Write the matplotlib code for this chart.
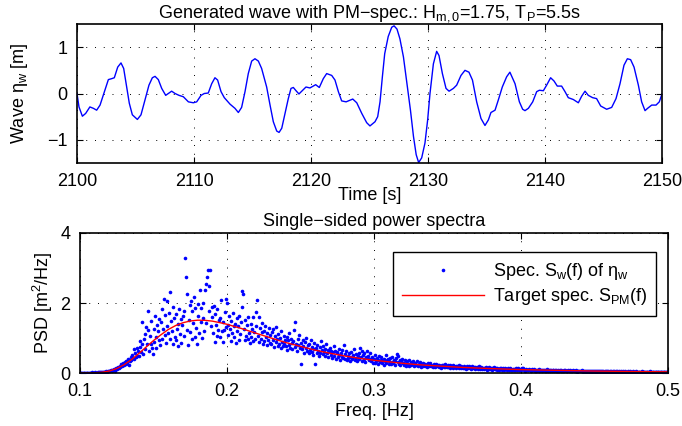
import numpy as np
import matplotlib
matplotlib.use('Agg')
import matplotlib.pyplot as plt

plt.rcParams['font.family'] = ['Liberation Sans', 'DejaVu Sans']
plt.rcParams['mathtext.fontset'] = 'custom'
plt.rcParams['mathtext.rm'] = 'Liberation Sans'
plt.rcParams['mathtext.it'] = 'Liberation Sans'
plt.rcParams['mathtext.bf'] = 'Liberation Sans:bold'
plt.rcParams['font.size'] = 13

# ola generada
t_ola = [2100.0, 2100.17, 2100.46, 2100.74, 2101.1, 2101.4, 2101.68, 2101.97, 2102.34, 2102.68,
         2102.96, 2103.19, 2103.48, 2103.76, 2103.99, 2104.25, 2104.47, 2104.73, 2105.16, 2105.47,
         2105.81, 2106.15, 2106.44, 2106.67, 2106.95, 2107.24, 2107.58, 2107.86, 2108.09, 2108.38,
         2108.72, 2109.09, 2109.52, 2109.94, 2110.23, 2110.6, 2110.88, 2111.22, 2111.51, 2111.79,
         2112.02, 2112.31, 2112.59, 2112.8, 2113.08, 2113.5, 2113.79, 2114.07, 2114.36, 2114.64,
         2114.93, 2115.21, 2115.5, 2115.78, 2116.21, 2116.5, 2116.78, 2117.07, 2117.27, 2117.5,
         2117.78, 2118.06, 2118.29, 2118.49, 2118.72, 2118.97, 2119.29, 2119.57, 2119.91, 2120.4,
         2120.71, 2121.05, 2121.34, 2121.77, 2122.05, 2122.34, 2122.62, 2123.0, 2123.57, 2123.91,
         2124.34, 2124.76, 2125.04, 2125.47, 2125.7, 2125.9, 2126.1, 2126.3, 2126.6, 2126.9,
         2127.1, 2127.35, 2127.6, 2127.9, 2128.2, 2128.5, 2128.76, 2128.99, 2129.2, 2129.46,
         2129.74, 2129.97, 2130.17, 2130.46, 2130.74, 2130.94, 2131.23, 2131.54, 2131.8, 2132.17,
         2132.45, 2132.82, 2133.16, 2133.5, 2133.8, 2134.16, 2134.53, 2134.87, 2135.16, 2135.38,
         2135.73, 2136.01, 2136.35, 2136.72, 2137.0, 2137.44, 2137.81, 2138.09, 2138.29, 2138.58,
         2138.95, 2139.29, 2139.52, 2139.86, 2140.14, 2140.48, 2140.77, 2141.05, 2141.42, 2141.71,
         2141.99, 2142.42, 2142.85, 2143.13, 2143.42, 2143.7, 2144.07, 2144.41, 2144.76, 2145.27,
         2145.7, 2146.07, 2146.41, 2146.75, 2147.04, 2147.32, 2147.61, 2147.98, 2148.26, 2148.55,
         2148.77, 2149.12, 2149.49, 2149.77, 2150.0]
eta_ola = [0.0, -0.29, -0.49, -0.43, -0.29, -0.32, -0.36, -0.25, 0.04, 0.30,
           0.32, 0.34, 0.57, 0.66, 0.54, 0.14, -0.21, -0.46, -0.56, -0.46,
           -0.14, 0.18, 0.34, 0.37, 0.30, 0.11, -0.04, 0.01, 0.05, 0.0,
           -0.04, -0.07, -0.18, -0.20, -0.18, -0.04, 0.0, 0.01, 0.21, 0.34,
           0.29, 0.04, -0.09, -0.15, -0.23, -0.32, -0.41, -0.30, 0.04, 0.43,
           0.70, 0.75, 0.70, 0.54, 0.14, -0.25, -0.61, -0.81, -0.84, -0.75,
           -0.43, -0.11, 0.11, 0.13, 0.06, -0.01, 0.07, 0.14, 0.12, 0.19,
           0.13, 0.32, 0.43, 0.39, 0.29, 0.04, -0.16, -0.18, -0.12, -0.20,
           -0.43, -0.63, -0.70, -0.61, -0.50, -0.18, 0.36, 0.86, 1.23, 1.43,
           1.46, 1.39, 1.18, 0.79, 0.21, -0.36, -0.93, -1.32, -1.49, -1.39,
           -1.07, -0.57, 0.0, 0.64, 0.91, 0.82, 0.43, 0.11, 0.05, 0.11,
           0.18, 0.39, 0.50, 0.46, 0.29, -0.18, -0.54, -0.69, -0.57, -0.41,
           -0.36, -0.14, 0.14, 0.36, 0.46, 0.21, -0.18, -0.34, -0.37, -0.32,
           -0.18, 0.04, 0.07, 0.06, 0.18, 0.34, 0.27, 0.16, 0.16, 0.04,
           -0.09, -0.13, -0.20, -0.06, 0.05, -0.04, -0.09, -0.11, -0.27, -0.34,
           -0.30, -0.11, 0.21, 0.61, 0.75, 0.73, 0.57, 0.18, -0.18, -0.37,
           -0.32, -0.25, -0.25, -0.18, -0.01]

# espectro medido, pasos de 0.0005 Hz desde 0.1 Hz
df_esp = 0.0005
f_ini = 0.1
psd_01 = [0.00, 0.00, 0.01, 0.00, 0.00, 0.01, 0.00, 0.00, 0.01, 0.00,
          0.00, 0.01, 0.00, 0.01, 0.01, 0.00, 0.01, 0.02, 0.01, 0.00,
          0.01, 0.02, 0.01, 0.00, 0.02, 0.01, 0.03, 0.02, 0.01, 0.02,
          0.03, 0.02, 0.04, 0.03, 0.02, 0.05, 0.04, 0.03, 0.06, 0.05,
          0.07, 0.05, 0.09, 0.06, 0.10, 0.08, 0.12, 0.07, 0.11, 0.13,
          0.15, 0.11, 0.18, 0.14, 0.21, 0.16, 0.25, 0.19, 0.23, 0.28,
          0.22, 0.31, 0.26, 0.35, 0.29, 0.41, 0.24, 0.38, 0.33, 0.45,
          0.36, 0.52, 0.44, 0.68, 0.39, 0.58, 0.47, 0.71, 0.50, 0.62,
          0.49, 0.74, 0.92, 0.61, 1.46, 0.83, 0.55, 0.98, 0.70, 1.12,
          1.31, 0.82, 1.76, 1.22, 0.64, 1.05, 0.84, 1.48, 0.72, 0.55,
          1.26, 0.88, 1.62, 1.04, 0.71, 1.38, 1.19, 0.95, 1.53, 0.80,
          1.45, 1.84, 0.98, 1.27, 2.12, 1.09, 1.66, 0.86, 2.06, 1.35,
          1.14, 1.72, 0.96, 2.31, 1.48, 1.21, 1.89, 0.83, 1.57, 1.02,
          0.93, 1.68, 1.25, 1.41, 0.78, 1.83, 1.12, 1.54, 0.85, 1.37,
          1.62, 1.06, 1.78, 3.30, 2.74, 1.24, 2.27, 0.80, 1.51, 1.93,
          1.17, 2.05, 0.96, 1.77, 1.42, 2.18, 1.03, 1.86, 1.29, 0.82,
          1.64, 1.96, 1.13, 2.36, 1.47, 1.85, 0.99, 2.01, 1.56, 1.21,
          2.36, 2.55, 1.42, 2.74, 2.93, 2.48, 1.77, 2.95, 1.34, 1.88,
          1.61, 1.15, 1.92, 0.88, 1.70, 1.36, 1.07, 1.83, 1.24, 1.52,
          1.02, 1.58, 2.08, 1.19, 0.89, 1.45, 1.22, 1.75, 1.31, 2.12]
psd_02 = [2.00, 1.37, 1.08, 1.64, 1.26, 0.91, 1.49, 1.15, 1.72, 1.33,
          1.02, 1.41, 0.87, 1.56, 1.19, 1.34, 0.95, 1.63, 1.11, 1.47,
          1.88, 2.33, 2.27, 1.25, 0.94, 1.52, 1.07, 1.36, 0.98, 1.61,
          1.13, 0.86, 1.40, 1.02, 1.27, 0.91, 1.59, 1.18, 0.97, 1.33,
          1.74, 2.10, 1.05, 1.60, 0.88, 1.29, 0.97, 1.16, 1.42, 0.83,
          1.21, 0.92, 1.35, 1.04, 0.79, 1.13, 0.95, 1.28, 0.86, 1.09,
          0.82, 1.17, 0.93, 1.26, 0.74, 1.05, 0.88, 1.31, 0.97, 0.78,
          1.12, 0.84, 0.99, 0.71, 1.19, 0.90, 0.76, 1.06, 0.83, 0.95,
          0.78, 1.02, 0.66, 0.93, 1.14, 0.81, 0.72, 0.98, 0.85, 0.69,
          0.91, 1.22, 0.74, 1.46, 0.83, 0.62, 0.96, 0.79, 1.08, 0.71,
          0.27, 0.85, 0.69, 0.93, 0.76, 0.58, 0.88, 0.72, 1.01, 0.64,
          0.79, 0.57, 0.84, 0.66, 0.95, 0.61, 0.73, 0.52, 0.86, 0.68,
          0.25, 0.71, 0.56, 0.80, 0.63, 0.49, 0.74, 0.58, 0.92, 0.66,
          0.53, 0.78, 0.61, 0.48, 0.70, 0.84, 0.56, 0.67, 0.45, 0.63,
          0.72, 0.51, 0.64, 0.43, 0.59, 0.76, 0.49, 0.62, 0.40, 0.56,
          0.61, 0.45, 0.70, 0.52, 0.38, 0.58, 0.47, 0.66, 0.42, 0.79,
          0.55, 0.41, 0.63, 0.36, 0.50, 0.44, 0.58, 0.34, 0.47, 0.60,
          0.39, 0.52, 0.46, 0.68, 0.37, 0.43, 0.55, 0.33, 0.49, 0.41,
          0.58, 0.72, 0.47, 0.64, 0.35, 0.51, 0.40, 0.56, 0.31, 0.45,
          0.62, 0.43, 0.50, 0.36, 0.57, 0.41, 0.34, 0.46, 0.29, 0.40]
psd_03 = [0.41, 0.29, 0.52, 0.35, 0.44, 0.27, 0.38, 0.48, 0.31, 0.36,
          0.45, 0.30, 0.37, 0.24, 0.41, 0.33, 0.51, 0.28, 0.36, 0.39,
          0.27, 0.35, 0.43, 0.26, 0.31, 0.47, 0.29, 0.38, 0.23, 0.34,
          0.42, 0.55, 0.50, 0.31, 0.26, 0.36, 0.22, 0.33, 0.40, 0.28,
          0.30, 0.24, 0.36, 0.21, 0.29, 0.33, 0.25, 0.38, 0.20, 0.27,
          0.31, 0.22, 0.28, 0.34, 0.19, 0.26, 0.30, 0.23, 0.35, 0.24,
          0.20, 0.27, 0.23, 0.31, 0.18, 0.25, 0.21, 0.29, 0.24, 0.19,
          0.26, 0.22, 0.17, 0.28, 0.23, 0.20, 0.30, 0.19, 0.24, 0.21,
          0.18, 0.25, 0.21, 0.16, 0.27, 0.22, 0.19, 0.24, 0.17, 0.23,
          0.20, 0.15, 0.24, 0.19, 0.22, 0.16, 0.26, 0.18, 0.21, 0.17,
          0.22, 0.16, 0.19, 0.24, 0.15, 0.20, 0.17, 0.23, 0.14, 0.19,
          0.17, 0.21, 0.14, 0.19, 0.16, 0.22, 0.13, 0.18, 0.20, 0.15,
          0.18, 0.13, 0.20, 0.15, 0.17, 0.12, 0.19, 0.16, 0.14, 0.21,
          0.14, 0.17, 0.12, 0.19, 0.15, 0.13, 0.18, 0.11, 0.16, 0.14,
          0.16, 0.12, 0.15, 0.19, 0.11, 0.14, 0.17, 0.12, 0.15, 0.13,
          0.11, 0.15, 0.13, 0.17, 0.10, 0.14, 0.12, 0.16, 0.11, 0.13,
          0.14, 0.10, 0.13, 0.16, 0.11, 0.12, 0.15, 0.09, 0.13, 0.12,
          0.10, 0.14, 0.11, 0.13, 0.09, 0.15, 0.12, 0.10, 0.13, 0.11,
          0.12, 0.09, 0.14, 0.11, 0.10, 0.13, 0.08, 0.12, 0.10, 0.11,
          0.09, 0.12, 0.10, 0.13, 0.08, 0.11, 0.14, 0.09, 0.10, 0.12]
psd_04 = [0.08, 0.11, 0.15, 0.13, 0.09, 0.10, 0.07, 0.12, 0.09, 0.10,
          0.08, 0.11, 0.09, 0.07, 0.10, 0.12, 0.08, 0.09, 0.11, 0.07,
          0.09, 0.07, 0.10, 0.08, 0.11, 0.06, 0.09, 0.08, 0.10, 0.07,
          0.08, 0.10, 0.06, 0.09, 0.07, 0.11, 0.08, 0.06, 0.09, 0.08,
          0.07, 0.09, 0.06, 0.10, 0.08, 0.07, 0.09, 0.05, 0.08, 0.07,
          0.06, 0.08, 0.07, 0.09, 0.05, 0.08, 0.07, 0.06, 0.09, 0.07,
          0.08, 0.06, 0.07, 0.05, 0.09, 0.06, 0.08, 0.07, 0.05, 0.07,
          0.06, 0.08, 0.05, 0.07, 0.06, 0.08, 0.04, 0.07, 0.06, 0.05,
          0.07, 0.05, 0.06, 0.08, 0.04, 0.06, 0.07, 0.05, 0.06, 0.04,
          0.05, 0.07, 0.04, 0.06, 0.05, 0.07, 0.04, 0.06, 0.05, 0.06,
          0.04, 0.06, 0.05, 0.07, 0.04, 0.05, 0.06, 0.03, 0.05, 0.06,
          0.05, 0.04, 0.06, 0.03, 0.05, 0.06, 0.04, 0.05, 0.03, 0.05,
          0.04, 0.06, 0.03, 0.05, 0.04, 0.05, 0.03, 0.06, 0.04, 0.05,
          0.03, 0.05, 0.04, 0.06, 0.03, 0.04, 0.05, 0.03, 0.04, 0.05,
          0.04, 0.03, 0.05, 0.04, 0.02, 0.05, 0.04, 0.03, 0.05, 0.04,
          0.03, 0.04, 0.05, 0.03, 0.04, 0.02, 0.05, 0.04, 0.03, 0.04,
          0.04, 0.03, 0.02, 0.04, 0.05, 0.03, 0.04, 0.02, 0.04, 0.03,
          0.03, 0.04, 0.03, 0.02, 0.04, 0.03, 0.05, 0.03, 0.02, 0.04,
          0.03, 0.02, 0.04, 0.03, 0.04, 0.02, 0.03, 0.04, 0.03, 0.02,
          0.04, 0.03, 0.02, 0.03, 0.04, 0.02, 0.03, 0.03, 0.04, 0.02,
          0.03]

f_pm = [0.100, 0.105, 0.110, 0.115, 0.120, 0.125, 0.130, 0.135, 0.140, 0.145,
        0.150, 0.155, 0.160, 0.165, 0.170, 0.175, 0.180, 0.185, 0.190, 0.195,
        0.200, 0.205, 0.210, 0.215, 0.220, 0.230, 0.240, 0.250, 0.260, 0.270,
        0.280, 0.290, 0.300, 0.310, 0.320, 0.330, 0.340, 0.350, 0.360, 0.380,
        0.400, 0.420, 0.450, 0.475, 0.500]
s_pm = [0.000, 0.001, 0.006, 0.021, 0.058, 0.128, 0.237, 0.382, 0.556, 0.743,
        0.927, 1.090, 1.241, 1.355, 1.436, 1.486, 1.509, 1.505, 1.482, 1.440,
        1.392, 1.330, 1.269, 1.200, 1.133, 1.000, 0.870, 0.760, 0.653, 0.565,
        0.487, 0.420, 0.364, 0.320, 0.275, 0.238, 0.210, 0.185, 0.160, 0.125,
        0.097, 0.080, 0.055, 0.043, 0.033]


def estilo_matlab(ax, xticks, yticks):
    ax.set_xticks(xticks)
    ax.set_yticks(yticks)
    ax.tick_params(direction='in', top=True, right=True, length=4, width=0.8, pad=7)
    ax.grid(True, color='k', linestyle=(0, (1, 8)), linewidth=0.7)
    for s in ax.spines.values():
        s.set_linewidth(1.2)


psd = np.array(psd_01 + psd_02 + psd_03 + psd_04)
f_esp = f_ini + df_esp * np.arange(len(psd))

fig = plt.figure(figsize=(6.82, 4.26), dpi=100)
ax1 = fig.add_axes([77/682, 1-163/426, 585/682, 139/426])
ax2 = fig.add_axes([80/682, 1-373/426, 588/682, 140/426])

ax1.plot(t_ola, eta_ola, color=(0, 0, 1), linewidth=1.0, solid_joinstyle='round')
ax1.set_xlim(2100, 2150)
ax1.set_ylim(-1.5, 1.5)
estilo_matlab(ax1, [2100, 2110, 2120, 2130, 2140, 2150], [-1, 0, 1])
ax1.set_title(r'Generated wave with PM$-$spec.: H$_{\mathrm{m,0}}$=1.75, T$_{\mathrm{P}}$=5.5s',
              fontsize=13, pad=5)
ax1.set_ylabel('Wave η$_\\mathrm{w}$ [m]', labelpad=12)
ax1.set_xlabel('Time [s]')
ax1.xaxis.set_label_coords(0.5, -0.17)

ax2.plot(f_esp, psd, linestyle='none', marker='o', markersize=2.6, color=(0, 0, 1),
         markeredgewidth=0, label='Spec. S$_\\mathrm{w}$(f) of η$_\\mathrm{w}$')
ax2.plot(f_pm, s_pm, color=(1, 0, 0), linewidth=1.0, label='Target spec. S$_{\\mathrm{PM}}$(f)')
ax2.set_xlim(0.1, 0.5)
ax2.set_ylim(0, 4)
estilo_matlab(ax2, [0.1, 0.2, 0.3, 0.4, 0.5], [0, 2, 4])
ax2.set_title('Single−sided power spectra', fontsize=13, pad=5)
ax2.set_ylabel('PSD [m$^2$/Hz]')
ax2.set_xlabel('Freq. [Hz]', labelpad=2)
leg = ax2.legend(loc='upper right', bbox_to_anchor=(0.98, 0.865), borderaxespad=0,
                 fancybox=False, edgecolor='k', framealpha=1, handlelength=4.5,
                 handletextpad=0.5, numpoints=1, borderpad=0.5, labelspacing=0.25)
leg.get_frame().set_linewidth(1.0)

fig.savefig('out.png', dpi=100)
